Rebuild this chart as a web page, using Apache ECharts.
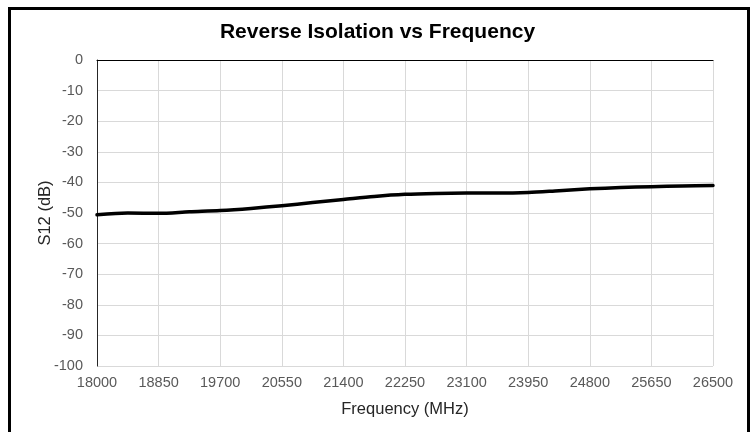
<!DOCTYPE html>
<html>
<head>
<meta charset="utf-8">
<script src="https://cdn.jsdelivr.net/npm/echarts@6/dist/echarts.min.js"></script>
<style>
  html, body { margin: 0; padding: 0; background: #fff; }
  #wrap { position: relative; width: 755px; height: 432px; overflow: hidden; }
  #frame {
    position: absolute; left: 8px; top: 7px; width: 736px; height: 440px;
    border: 3px solid #000; box-sizing: content-box;
  }
  #chart { position: absolute; left: 0; top: 0; width: 755px; height: 432px; }
</style>
</head>
<body>
<div id="wrap">
  <div id="frame"></div>
  <div id="chart"></div>
</div>
<script>
// frequency (MHz) and S12 (dB)
const freq = [18000, 18425, 18850, 19275, 19700, 20125, 20550, 20975, 21400, 21825, 22250,
  22675, 23100, 23525, 23950, 24375, 24800, 25225, 25650, 26075, 26500];
const s12 = [-50.6, -50.0, -50.1, -49.6, -49.2, -48.5, -47.6, -46.6, -45.6, -44.6, -43.9,
  -43.6, -43.5, -43.5, -43.3, -42.7, -42.1, -41.7, -41.4, -41.2, -41.0];

const xTicks = { min: 18000, max: 26500, step: 850 };
const yTicks = { min: -100, max: 0, step: 10 };

const FONT = '"Liberation Sans", Arial, sans-serif';

const chart = echarts.init(document.getElementById('chart'));

chart.setOption({
  animation: false,
  title: {
    text: 'Reverse Isolation vs Frequency',
    left: 'center',
    top: 17,
    textStyle: { fontFamily: FONT, fontSize: 21, fontWeight: 'bold', color: '#000' }
  },
  grid: { left: 97, right: 42, top: 60, bottom: 66 },
  xAxis: [{
    type: 'value',
    min: xTicks.min,
    max: xTicks.max,
    interval: xTicks.step,
    position: 'bottom',
    name: 'Frequency (MHz)',
    nameLocation: 'middle',
    nameGap: 35,
    nameMoveOverlap: false,
    nameTextStyle: { fontFamily: FONT, fontSize: 16.5, color: '#262626' },
    axisLine: { show: false },
    axisTick: { show: false },
    axisLabel: {
      fontFamily: FONT, fontSize: 14.5, color: '#595959', margin: 9,
      formatter: (v) => String(v)
    },
    splitLine: { show: true, lineStyle: { color: '#d9d9d9', width: 1 } }
  }, {
    type: 'value',
    min: xTicks.min,
    max: xTicks.max,
    position: 'top',
    axisLine: { show: true, onZero: false, lineStyle: { color: '#000', width: 1 } },
    axisTick: { show: false },
    axisLabel: { show: false },
    splitLine: { show: false }
  }],
  yAxis: {
    type: 'value',
    min: yTicks.min,
    max: yTicks.max,
    interval: yTicks.step,
    name: 'S12 (dB)',
    nameLocation: 'middle',
    nameGap: 43,
    nameMoveOverlap: false,
    nameRotate: 90,
    nameTextStyle: { fontFamily: FONT, fontSize: 16.5, color: '#262626' },
    axisLine: { show: true, onZero: false, lineStyle: { color: '#262626', width: 1 } },
    axisTick: { show: false },
    axisLabel: { fontFamily: FONT, fontSize: 14.5, color: '#595959', margin: 14 },
    splitLine: { show: true, lineStyle: { color: '#d9d9d9', width: 1 } }
  },
  series: [{
    type: 'line',
    xAxisIndex: 0,
    data: freq.map((f, i) => [f, s12[i]]),
    smooth: 0.3,
    showSymbol: false,
    lineStyle: { color: '#000', width: 3.5, cap: 'round', join: 'round' }
  }]
});
</script>
</body>
</html>
